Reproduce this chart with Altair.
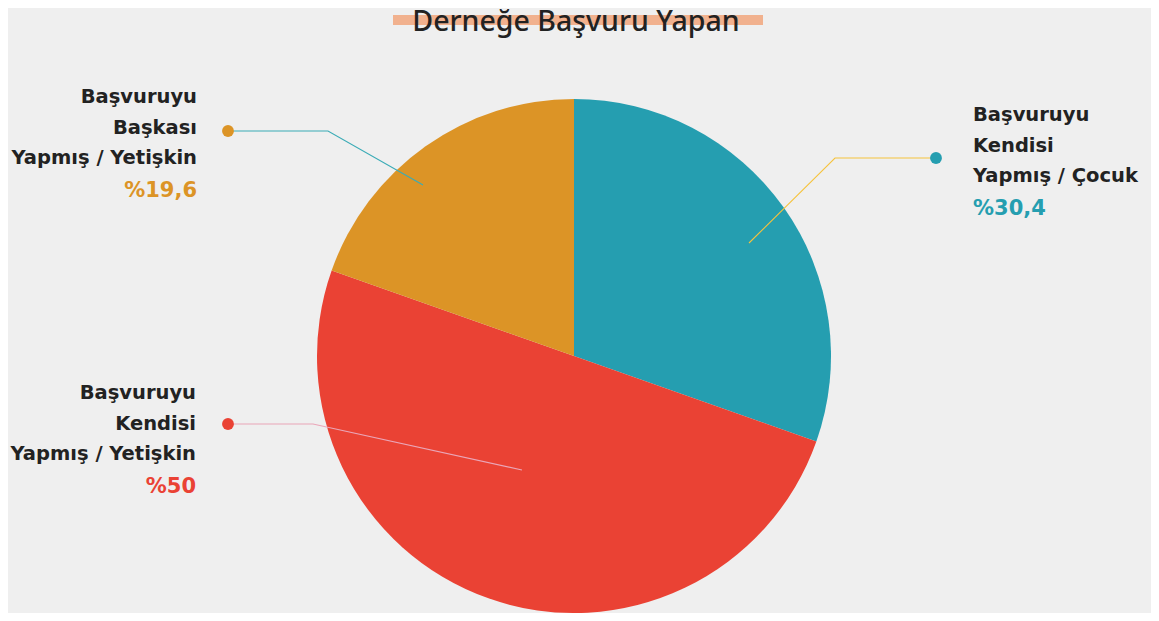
import altair as alt
import pandas as pd

# ---- data ----
categories = ["Başvuruyu Kendisi Yapmış / Çocuk",
              "Başvuruyu Kendisi Yapmış / Yetişkin",
              "Başvuruyu Başkası Yapmış / Yetişkin"]
shares = [30.4, 50.0, 19.6]
slice_colors = ["#259eb0", "#ea4234", "#dc9426"]
title_text = "Derneğe Başvuru Yapan"

label_lines = [
    ["Başvuruyu", "Kendisi", "Yapmış / Çocuk"],
    ["Başvuruyu", "Kendisi", "Yapmış / Yetişkin"],
    ["Başvuruyu", "Başkası", "Yapmış / Yetişkin"],
]
pct_labels = ["%30,4", "%50", "%19,6"]

# ---- annotation layout (page pixel coordinates, text baselines) ----
label_x = [973, 196, 197]
label_align = ["left", "right", "right"]
label_y0 = [121, 399, 103]
line_gap = 30.5
pct_gap = 33
dot_xy = [(936, 158), (228, 424), (228, 131)]
elbow_x = [835, 313, 328]
tip_xy = [(749, 243), (522, 470), (423, 185)]
leader_colors = ["#f6c33c", "#eaa6b8", "#3aabb6"]

W, H = 1143, 605
cx, cy, R = 574, 356, 257
FONT = "DejaVu Sans"
TITLE_FONT = "Noto Sans"

xs = alt.Scale(domain=[8, 8 + W], range=[0, W])
ys = alt.Scale(domain=[8, 8 + H], range=[0, H])

pie_df = pd.DataFrame({"cat": categories, "share": shares, "order": [0, 1, 2]})
pie = alt.Chart(pie_df).mark_arc(radius=R).encode(
    theta=alt.Theta("share:Q", stack=True),
    order=alt.Order("order:Q"),
    color=alt.Color("cat:N", scale=alt.Scale(domain=categories, range=slice_colors), legend=None),
    x=alt.value(cx - 8),
    y=alt.value(cy - 8),
)

# title with highlight bar
bar_df = pd.DataFrame({"x": [393], "x2": [763], "y": [15], "y2": [25]})
bar = alt.Chart(bar_df).mark_rect(color="#f1b18e").encode(
    x=alt.X("x:Q", scale=xs, axis=None), x2="x2:Q",
    y=alt.Y("y:Q", scale=ys, axis=None), y2="y2:Q",
)
title_df = pd.DataFrame({"x": [576], "y": [30.5], "t": [title_text]})
title = alt.Chart(title_df).mark_text(
    font=TITLE_FONT, fontSize=28.5, fontWeight=500, color="#222222", align="center", baseline="alphabetic"
).encode(x=alt.X("x:Q", scale=xs, axis=None), y=alt.Y("y:Q", scale=ys, axis=None), text="t:N")

# leader lines
rows = []
for i in range(3):
    pts = [dot_xy[i], (elbow_x[i], dot_xy[i][1]), tip_xy[i]]
    for k, (px, py) in enumerate(pts):
        rows.append({"g": categories[i], "k": k, "x": px, "y": py})
lead_df = pd.DataFrame(rows)
leaders = alt.Chart(lead_df).mark_line(strokeWidth=1.1).encode(
    x=alt.X("x:Q", scale=xs, axis=None), y=alt.Y("y:Q", scale=ys, axis=None),
    detail="g:N", order="k:Q",
    color=alt.Color("g:N", scale=alt.Scale(domain=categories, range=leader_colors), legend=None),
)

dot_df = pd.DataFrame({"g": categories, "x": [d[0] for d in dot_xy], "y": [d[1] for d in dot_xy]})
dots = alt.Chart(dot_df).mark_point(filled=True, size=140, opacity=1).encode(
    x=alt.X("x:Q", scale=xs, axis=None), y=alt.Y("y:Q", scale=ys, axis=None),
    color=alt.Color("g:N", scale=alt.Scale(domain=categories, range=slice_colors), legend=None),
)

# labels
text_layers = []
for i in range(3):
    lines = label_lines[i]
    ldf = pd.DataFrame({"x": [label_x[i]] * len(lines),
                        "y": [label_y0[i] + j * line_gap for j in range(len(lines))],
                        "t": lines})
    text_layers.append(alt.Chart(ldf).mark_text(
        font=FONT, fontSize=19.5, fontWeight="bold", color="#222222",
        align=label_align[i], baseline="alphabetic"
    ).encode(x=alt.X("x:Q", scale=xs, axis=None), y=alt.Y("y:Q", scale=ys, axis=None), text="t:N"))
    pdf = pd.DataFrame({"x": [label_x[i]], "y": [label_y0[i] + 2 * line_gap + pct_gap], "t": [pct_labels[i]]})
    text_layers.append(alt.Chart(pdf).mark_text(
        font=FONT, fontSize=21, fontWeight="bold", color=slice_colors[i],
        align=label_align[i], baseline="alphabetic"
    ).encode(x=alt.X("x:Q", scale=xs, axis=None), y=alt.Y("y:Q", scale=ys, axis=None), text="t:N"))

chart = alt.layer(pie, bar, title, leaders, dots, *text_layers).properties(
    width=W, height=H, padding=0, background="#efefef",
    autosize=alt.AutoSizeParams(type="none"),
).configure_view(stroke=None).resolve_scale(color="independent")

chart.save("out.html", embed_options={"renderer": "svg", "actions": False})
